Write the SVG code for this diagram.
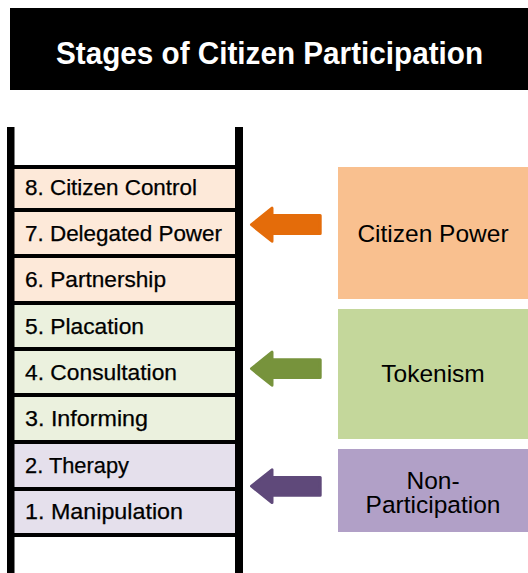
<svg xmlns="http://www.w3.org/2000/svg" width="528" height="573" viewBox="0 0 528 573">
<style>
.lbl{font-family:"Liberation Sans",Arial,sans-serif;font-size:21.5px;fill:#000;stroke:#000;stroke-width:0.25}
.cat{font-family:"Liberation Sans",Arial,sans-serif;font-size:24.5px;fill:#000;text-anchor:middle}
.ttl{font-family:"Liberation Sans",Arial,sans-serif;font-weight:bold;font-size:32px;fill:#fff}
.rung{fill:#000}
.pk{fill:#FDE9D9}.gr{fill:#EBF1DE}.pu{fill:#E5E0EC}
</style>
<g id="title">
<rect x="10" y="8" width="518" height="82" fill="#000"/>
<text class="ttl" x="56" y="63.5" textLength="427" lengthAdjust="spacingAndGlyphs">Stages of Citizen Participation</text>
</g>
<g id="ladder">
<rect class="pk" x="14" y="169" width="221" height="138"/>
<rect class="gr" x="14" y="303" width="221" height="140"/>
<rect class="pu" x="14" y="442" width="221" height="93"/>
<rect class="rung" x="7" y="127" width="7.5" height="446"/>
<rect class="rung" x="235" y="127" width="8" height="446"/>
<rect class="rung" x="14" y="165" width="221" height="4"/>
<rect class="rung" x="14" y="208" width="221" height="4"/>
<rect class="rung" x="14" y="254" width="221" height="4"/>
<rect class="rung" x="14" y="301" width="221" height="4"/>
<rect class="rung" x="14" y="347" width="221" height="4"/>
<rect class="rung" x="14" y="393" width="221" height="4"/>
<rect class="rung" x="14" y="440" width="221" height="4"/>
<rect class="rung" x="14" y="487" width="221" height="4"/>
<rect class="rung" x="14" y="533" width="221" height="4"/>
</g>
<g id="stage8"><text class="lbl" x="25" y="194.5" textLength="172" lengthAdjust="spacingAndGlyphs">8. Citizen Control</text></g>
<g id="stage7"><text class="lbl" x="25" y="240.5" textLength="197" lengthAdjust="spacingAndGlyphs">7. Delegated Power</text></g>
<g id="stage6"><text class="lbl" x="25" y="286.5" textLength="141" lengthAdjust="spacingAndGlyphs">6. Partnership</text></g>
<g id="stage5"><text class="lbl" x="25" y="333.5" textLength="119" lengthAdjust="spacingAndGlyphs">5. Placation</text></g>
<g id="stage4"><text class="lbl" x="25" y="379.5" textLength="152" lengthAdjust="spacingAndGlyphs">4. Consultation</text></g>
<g id="stage3"><text class="lbl" x="25" y="425.5" textLength="123" lengthAdjust="spacingAndGlyphs">3. Informing</text></g>
<g id="stage2"><text class="lbl" x="25" y="472.5" textLength="104" lengthAdjust="spacingAndGlyphs">2. Therapy</text></g>
<g id="stage1"><text class="lbl" x="25" y="518.5" textLength="158" lengthAdjust="spacingAndGlyphs">1. Manipulation</text></g>
<g id="citizen-power">
<rect x="338" y="167" width="190" height="132" fill="#F9C08F"/>
<text class="cat" x="433" y="242">Citizen Power</text>
</g>
<g id="tokenism">
<rect x="338" y="309" width="190" height="130" fill="#C4D79B"/>
<text class="cat" x="433" y="382">Tokenism</text>
</g>
<g id="non-participation">
<rect x="338" y="449" width="190" height="83" fill="#B1A0C7"/>
<text class="cat" x="433" y="489"><tspan x="433" y="489">Non-</tspan><tspan x="433" y="513">Participation</tspan></text>
</g>
<g id="connectors" stroke-linejoin="round" stroke-width="3">
<path d="M251.5 224.7 L272 208.2 L272 215.5 L320.2 215.5 L320.2 233.5 L272 233.5 L272 241.2 Z" fill="#E46C0A" stroke="#E46C0A"/>
<path d="M251.5 368.7 L272 352.2 L272 359.8 L320.2 359.8 L320.2 377.5 L272 377.5 L272 385.2 Z" fill="#77933C" stroke="#77933C"/>
<path d="M251.5 486.2 L272 469.8 L272 477.5 L320.2 477.5 L320.2 495.2 L272 495.2 L272 502.5 Z" fill="#5F497A" stroke="#5F497A"/>
</g>
</svg>
